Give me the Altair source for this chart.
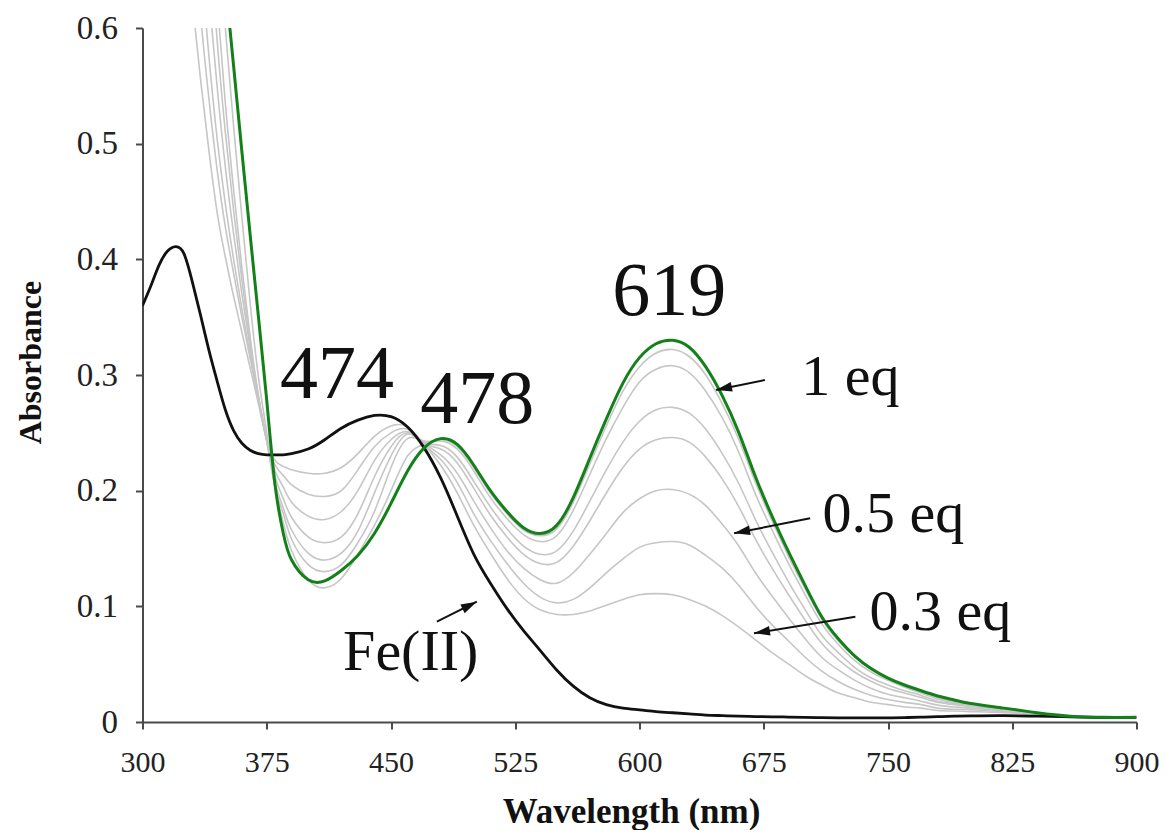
import math
import altair as alt
import pandas as pd

# ---------------- data ----------------
wavelength = [300, 305, 310, 315, 320, 325, 330, 335, 340, 345, 350, 355, 360, 365, 370, 375,
              380, 385, 390,
              400, 410, 420, 430, 440, 450, 460, 470, 480, 490,
              500, 510, 520, 530, 540, 550, 560, 570, 580, 590,
              600, 610, 620, 630, 640, 650, 660, 670, 680, 690,
              700, 710, 720, 730, 740, 750, 760, 770, 780, 790,
              800, 820, 840, 860, 880, 900]

fe_ii = [0.360, 0.377, 0.395, 0.407, 0.411, 0.405, 0.381, 0.352, 0.322, 0.295, 0.270, 0.252, 0.241, 0.235, 0.232, 0.231,
         0.231, 0.231, 0.232,
         0.236, 0.244, 0.254, 0.261, 0.265, 0.264, 0.255, 0.237, 0.211, 0.178,
         0.145, 0.120, 0.098, 0.079, 0.062, 0.045, 0.031, 0.021, 0.015, 0.012,
         0.0105, 0.009, 0.008, 0.007, 0.006, 0.0055, 0.005, 0.0047, 0.0045, 0.0043,
         0.004, 0.0038, 0.0036, 0.0035, 0.0035, 0.0036, 0.0038, 0.0042, 0.0046, 0.005,
         0.0053, 0.0055, 0.005, 0.0045, 0.004, 0.004]

eq_1 = [None, None, None, None, None, None, None, None, None, None, 0.640, 0.567, 0.493, 0.421, 0.350, 0.278,
        0.205, 0.163, 0.140,
        0.123, 0.122, 0.131, 0.144, 0.163, 0.189, 0.217, 0.237, 0.245, 0.240,
        0.222, 0.200, 0.182, 0.168, 0.163, 0.170, 0.194, 0.228, 0.262, 0.293,
        0.315, 0.327, 0.330, 0.324, 0.307, 0.282, 0.250, 0.212, 0.178, 0.147,
        0.118, 0.091, 0.072, 0.057, 0.046, 0.038, 0.032, 0.027, 0.0225, 0.019,
        0.016, 0.012, 0.008, 0.005, 0.004, 0.004]

gray_1 = [None, None, None, None, None, 0.700, 0.625, 0.556, 0.495, 0.441, 0.402, 0.368, 0.337, 0.306, 0.275, 0.244,
          0.226, 0.221, 0.218,
          0.215, 0.215, 0.220, 0.232, 0.247, 0.256, 0.255, 0.240, 0.222, 0.198,
          0.170, 0.146, 0.124, 0.107, 0.097, 0.093, 0.093, 0.096, 0.101, 0.106,
          0.110, 0.111, 0.110, 0.106, 0.100, 0.092, 0.082, 0.071, 0.060, 0.050,
          0.040, 0.032, 0.025, 0.021, 0.017, 0.015, 0.013, 0.012, 0.010, 0.0095,
          0.009, 0.008, 0.006, 0.0047, 0.004, 0.004]

gray_2 = [None, None, None, None, None, None, 0.700, 0.612, 0.540, 0.478, 0.428, 0.388, 0.350, 0.314, 0.278, 0.243,
          0.222, 0.213, 0.205,
          0.197, 0.195, 0.200, 0.218, 0.238, 0.250, 0.253, 0.240, 0.227, 0.207,
          0.180, 0.157, 0.137, 0.120, 0.108, 0.103, 0.106, 0.116, 0.129, 0.141,
          0.151, 0.155, 0.156, 0.153, 0.144, 0.133, 0.118, 0.100, 0.084, 0.070,
          0.056, 0.044, 0.035, 0.028, 0.023, 0.0194, 0.017, 0.015, 0.012, 0.011,
          0.0106, 0.0088, 0.0064, 0.0047, 0.004, 0.004]

gray_3 = [None, None, None, None, None, None, None, 0.660, 0.577, 0.505, 0.448, 0.400, 0.357, 0.317, 0.279, 0.243,
          0.217, 0.203, 0.190,
          0.178, 0.175, 0.182, 0.200, 0.226, 0.244, 0.251, 0.241, 0.231, 0.215,
          0.191, 0.168, 0.148, 0.133, 0.123, 0.120, 0.129, 0.145, 0.163, 0.181,
          0.193, 0.200, 0.201, 0.197, 0.187, 0.171, 0.152, 0.129, 0.109, 0.090,
          0.072, 0.056, 0.045, 0.036, 0.029, 0.024, 0.021, 0.018, 0.0146, 0.013,
          0.012, 0.0096, 0.0068, 0.0048, 0.004, 0.004]

gray_4 = [None, None, None, None, None, None, None, None, 0.630, 0.550, 0.480, 0.422, 0.370, 0.323, 0.280, 0.243,
          0.212, 0.193, 0.177,
          0.160, 0.155, 0.160, 0.180, 0.212, 0.238, 0.250, 0.241, 0.236, 0.224,
          0.202, 0.179, 0.160, 0.145, 0.137, 0.138, 0.152, 0.174, 0.198, 0.220,
          0.236, 0.244, 0.246, 0.242, 0.229, 0.210, 0.186, 0.158, 0.133, 0.110,
          0.088, 0.068, 0.054, 0.043, 0.035, 0.029, 0.025, 0.0212, 0.017, 0.015,
          0.0134, 0.0104, 0.0072, 0.0049, 0.004, 0.004]

gray_5 = [None, None, None, None, None, None, None, None, 0.690, 0.590, 0.510, 0.442, 0.382, 0.328, 0.281, 0.243,
          0.207, 0.185, 0.166,
          0.146, 0.140, 0.146, 0.165, 0.198, 0.230, 0.249, 0.242, 0.239, 0.229,
          0.208, 0.186, 0.167, 0.152, 0.145, 0.148, 0.165, 0.191, 0.218, 0.242,
          0.260, 0.270, 0.272, 0.267, 0.253, 0.232, 0.206, 0.175, 0.147, 0.121,
          0.097, 0.075, 0.060, 0.047, 0.038, 0.032, 0.027, 0.023, 0.018, 0.016,
          0.014, 0.011, 0.0075, 0.0049, 0.004, 0.004]

gray_6 = [None, None, None, None, None, None, None, None, None, 0.625, 0.535, 0.460, 0.393, 0.333, 0.282, 0.243,
          0.203, 0.180, 0.158,
          0.136, 0.130, 0.136, 0.155, 0.182, 0.220, 0.245, 0.243, 0.243, 0.236,
          0.217, 0.194, 0.176, 0.162, 0.156, 0.161, 0.183, 0.214, 0.245, 0.272,
          0.294, 0.305, 0.308, 0.302, 0.286, 0.263, 0.233, 0.197, 0.166, 0.137,
          0.110, 0.085, 0.067, 0.053, 0.043, 0.036, 0.030, 0.025, 0.020, 0.017,
          0.0153, 0.0116, 0.0078, 0.005, 0.004, 0.004]

gray_7 = [None, None, None, None, None, None, None, None, None, 0.700, 0.600, 0.515, 0.436, 0.362, 0.298, 0.250,
          0.203, 0.172, 0.148,
          0.123, 0.116, 0.124, 0.145, 0.170, 0.200, 0.230, 0.240, 0.244, 0.238,
          0.220, 0.198, 0.180, 0.166, 0.161, 0.167, 0.190, 0.223, 0.256, 0.286,
          0.307, 0.319, 0.322, 0.316, 0.300, 0.275, 0.244, 0.207, 0.174, 0.143,
          0.115, 0.089, 0.070, 0.056, 0.045, 0.037, 0.031, 0.026, 0.021, 0.0175,
          0.0158, 0.0118, 0.0079, 0.005, 0.004, 0.004]

# annotations (data coordinates)
label_text = ["474", "478", "619", "1 eq", "0.5 eq", "0.3 eq", "Fe(II)"]
label_wl = [383.0, 467.6, 583.5, 697.7, 710.4, 738.8, 421.1]
label_abs = [0.2801, 0.2585, 0.3519, 0.2827, 0.1643, 0.0795, 0.0450]
label_size = [76, 76, 76, 58, 58, 58, 58]

arrow_tail_wl = [675.7, 703.0, 730.3, 477.7]
arrow_tail_abs = [0.2957, 0.1761, 0.0910, 0.0867]
arrow_head_wl = [646.2, 657.1, 669.1, 501.8]
arrow_head_abs = [0.2870, 0.1631, 0.0767, 0.1040]

x_ticks = [300, 375, 450, 525, 600, 675, 750, 825, 900]
y_ticks = [0, 0.1, 0.2, 0.3, 0.4, 0.5, 0.6]

# ---------------- layout ----------------
W, H = 994, 694
X_DOM = [300, 900]
Y_DOM = [0, 0.6]
SERIF = "Liberation Serif"


def long_frame(pairs):
    rows = []
    for name, vals in pairs:
        for w, a in zip(wavelength, vals):
            if a is not None:
                rows.append({"wavelength": w, "absorbance": a, "series": name})
    return pd.DataFrame(rows)


gray_df = long_frame([("gray_1", gray_1), ("gray_2", gray_2), ("gray_3", gray_3), ("gray_4", gray_4),
                      ("gray_5", gray_5), ("gray_6", gray_6), ("gray_7", gray_7)])
green_df = long_frame([("1 eq", eq_1)])
black_df = long_frame([("Fe(II)", fe_ii)])

px_nm = W / (X_DOM[1] - X_DOM[0])
px_abs = H / (Y_DOM[1] - Y_DOM[0])
angles = []
for xt, yt, xh, yh in zip(arrow_tail_wl, arrow_tail_abs, arrow_head_wl, arrow_head_abs):
    dx = (xh - xt) * px_nm
    up = (yh - yt) * px_abs
    angles.append(math.degrees(math.atan2(dx, up)) % 360)

arrow_df = pd.DataFrame({
    "wavelength": arrow_tail_wl, "absorbance": arrow_tail_abs,
    "wl_end": arrow_head_wl, "abs_end": arrow_head_abs,
})
head_df = pd.DataFrame({"wavelength": arrow_head_wl, "absorbance": arrow_head_abs, "angle": angles})
label_df = pd.DataFrame({"wavelength": label_wl, "absorbance": label_abs, "label": label_text, "fs": label_size})

AX = "#4a4a4a"
x_enc = alt.X("wavelength:Q",
              scale=alt.Scale(domain=X_DOM, nice=False, zero=False),
              axis=alt.Axis(values=x_ticks, title="Wavelength (nm)", grid=False,
                            domainColor=AX, domainWidth=2, tickColor=AX, tickWidth=2, tickSize=7,
                            labelFont=SERIF, labelFontSize=30, labelColor="#222", labelPadding=18,
                            labelFlush=False, labelOverlap=False,
                            titleFont=SERIF, titleFontSize=35, titleFontWeight="bold", titleColor="#111",
                            titleX=488.5, titleY=100, titleAlign="center", titleBaseline="alphabetic"))
y_enc = alt.Y("absorbance:Q",
              scale=alt.Scale(domain=Y_DOM, nice=False, zero=True),
              axis=alt.Axis(values=y_ticks, format=".1~f", title="Absorbance", grid=False,
                            domainColor=AX, domainWidth=2, tickColor=AX, tickWidth=2, tickSize=7,
                            labelFont=SERIF, labelFontSize=33, labelColor="#222", labelPadding=18,
                            labelFlush=False, labelOverlap=False,
                            titleFont=SERIF, titleFontSize=32, titleFontWeight="bold", titleColor="#111",
                            titleAngle=270, titleX=-102.5, titleY=334, titleAlign="center",
                            titleBaseline="alphabetic"))

grays = alt.Chart(gray_df).mark_line(clip=True, interpolate="natural", color="#c6c6c6",
                                     strokeWidth=1.6).encode(x=x_enc, y=y_enc, detail="series:N")
green = alt.Chart(green_df).mark_line(clip=True, interpolate="natural", color="#13801a",
                                      strokeWidth=3).encode(x=x_enc, y=y_enc)
black = alt.Chart(black_df).mark_line(clip=True, interpolate="natural", color="#111111",
                                      strokeWidth=2.8).encode(x=x_enc, y=y_enc)

shafts = alt.Chart(arrow_df).mark_rule(color="#111", strokeWidth=2).encode(
    x=x_enc, y=y_enc, x2="wl_end:Q", y2="abs_end:Q")
heads = alt.Chart(head_df).mark_point(shape="M0,0L-0.6,2L0.6,2Z", filled=True, size=256,
                                      color="#111", opacity=1, strokeWidth=0).encode(
    x=x_enc, y=y_enc, angle=alt.Angle("angle:Q", scale=None))
labels = alt.Chart(label_df).mark_text(font=SERIF, align="left", baseline="alphabetic",
                                       color="#111").encode(
    x=x_enc, y=y_enc, text="label:N", size=alt.Size("fs:Q", scale=None))

chart = alt.layer(grays, black, green, shafts, heads, labels).properties(
    width=W, height=H,
    autosize=alt.AutoSizeParams(type="none"),
    padding={"left": 134.5, "top": 20, "right": 22, "bottom": 108},
    background="white",
).configure_view(stroke=None)

chart.save("out.html", embed_options={"renderer": "svg", "actions": False})
